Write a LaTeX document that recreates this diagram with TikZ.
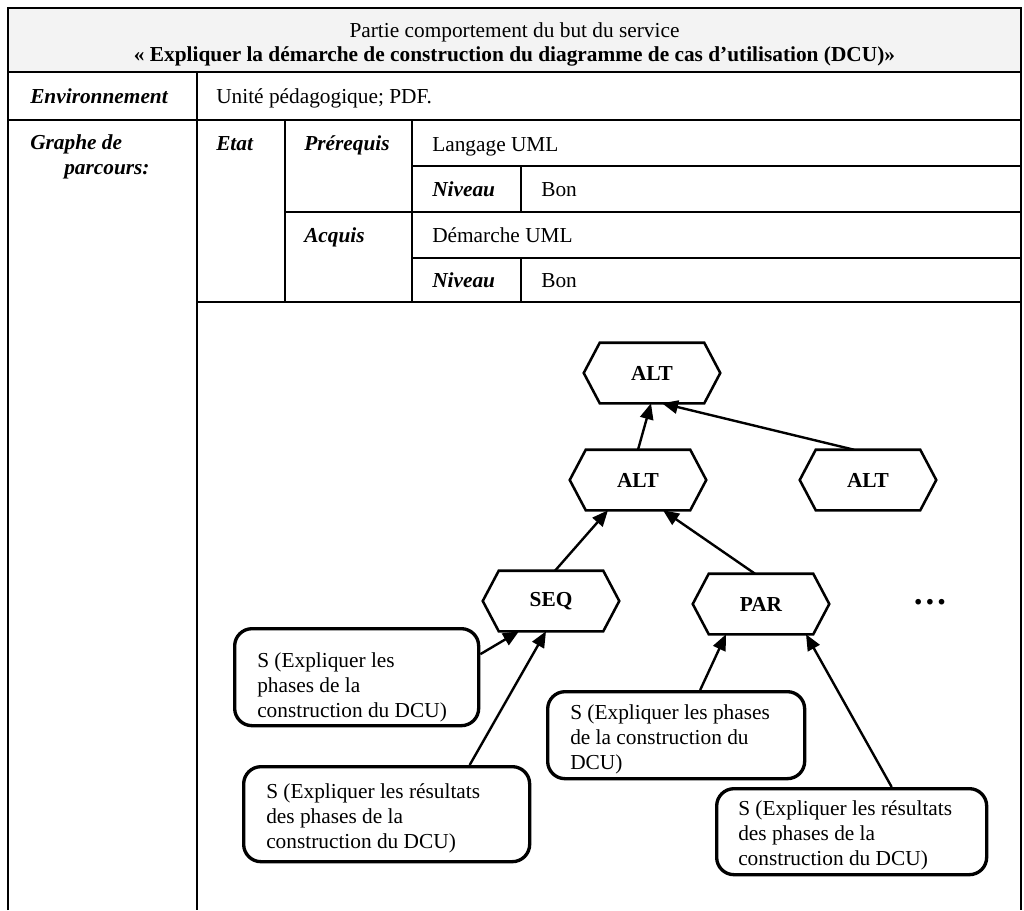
\documentclass[tikz,border=0pt]{standalone}
\usepackage{fontspec}
\setmainfont{Liberation Serif}
\usetikzlibrary{arrows.meta,calc}
\definecolor{hdr}{HTML}{F3F3F3}
\newcommand\hexoutline[1]{\draw[hexline] (#1.west) -- ($(#1.north west)+(16,0)$) -- ($(#1.north east)+(-16,0)$) -- (#1.east) -- ($(#1.south east)+(-16,0)$) -- ($(#1.south west)+(16,0)$) -- cycle;}
\begin{document}
\begin{tikzpicture}[x=0.75pt,y=-0.75pt,
  font=\fontsize{16}{18.7}\selectfont,
  tline/.style={line width=1.5pt},
  hexlbl/.style={minimum width=102pt,minimum height=45pt,inner sep=0pt,font=\fontsize{16}{18.7}\selectfont\bfseries},
  hexline/.style={line width=1.9pt,line join=miter},
  sbox/.style={draw,line width=2.5pt,rounded corners=13pt,inner sep=0pt,anchor=north west},
  stext/.style={align=left,inner sep=0pt,anchor=west},
  arr/.style={line width=1.8pt,-{Triangle[length=12pt,width=10pt]}},
  cell/.style={anchor=base west,inner sep=0pt},
  hcell/.style={cell,font=\fontsize{16}{18.7}\selectfont\bfseries\itshape}]
\useasboundingbox (0,0) rectangle (1024,910);
% table
\fill[hdr] (8,8) rectangle (1021,72);
\draw[tline] (8,910) -- (8,8) -- (1021,8) -- (1021,910);
\draw[tline] (8,72) -- (1021,72);
\draw[tline] (8,120) -- (1021,120);
\draw[tline] (197,72) -- (197,910);
\draw[tline] (285,120) -- (285,302);
\draw[tline] (412,120) -- (412,302);
\draw[tline] (521,166) -- (521,212);
\draw[tline] (521,258) -- (521,302);
\draw[tline] (412,166) -- (1021,166);
\draw[tline] (285,212) -- (1021,212);
\draw[tline] (412,258) -- (1021,258);
\draw[tline] (197,302) -- (1021,302);
% table texts
\node[align=center,inner sep=0pt,font=\fontsize{16}{18}\selectfont] (title) at (514.5,44) {Partie comportement du but du service\\\textbf{« Expliquer la démarche de construction du diagramme de cas d’utilisation (DCU)»}};
\node[hcell] (env) at (30,103) {Environnement};
\node[cell] (envv) at (216,103) {Unité pédagogique; PDF.};
\node[hcell] (gr1) at (30,149) {Graphe de};
\node[hcell] (gr2) at (64,174) {parcours:};
\node[hcell] (etat) at (216,150) {Etat};
\node[hcell] (prer) at (304,150) {Prérequis};
\node[cell] (prerv) at (432,151) {Langage UML};
\node[hcell] (niv1) at (432,196) {Niveau};
\node[cell] (niv1v) at (541,196) {Bon};
\node[hcell] (acq) at (304,242) {Acquis};
\node[cell] (acqv) at (432,242) {Démarche UML};
\node[hcell] (niv2) at (432,287) {Niveau};
\node[cell] (niv2v) at (541,287) {Bon};
% graph
\node[hexlbl] (alt1) at (652,373) {ALT};
\node[hexlbl] (alt2) at (638,480) {ALT};
\node[hexlbl] (alt3) at (868,480) {ALT};
\node[hexlbl] (seq) at (551,601) {SEQ};
\node[hexlbl] (par) at (761,604) {PAR};
\hexoutline{alt1}
\hexoutline{alt2}
\hexoutline{alt3}
\hexoutline{seq}
\hexoutline{par}
\node[font=\fontsize{26}{28}\selectfont\bfseries,anchor=base,inner sep=0pt] (dots) at (930,604) {…};
\node[sbox,minimum width=183pt,minimum height=72.75pt] (b1) at (233,627) {};
\node[stext] (t1) at ($(b1.west)+(24,10)$) {S (Expliquer les\\phases de la\\construction du DCU)};
\node[sbox,minimum width=214.5pt,minimum height=71.25pt] (b2) at (242,765) {};
\node[stext] (t2) at ($(b2.west)+(24,4)$) {S (Expliquer les résultats\\des phases de la\\construction du DCU)};
\node[sbox,minimum width=192.75pt,minimum height=65.25pt] (b3) at (546,690) {};
\node[stext] (t3) at ($(b3.west)+(24,4)$) {S (Expliquer les phases\\de la construction du\\DCU)};
\node[sbox,minimum width=202.5pt,minimum height=64.5pt] (b4) at (715,787) {};
\node[stext] (t4) at ($(b4.west)+(23,4)$) {S (Expliquer les résultats\\des phases de la\\construction du DCU)};
% arrows
\draw[arr] ($(alt2.north)+(0,0)$) -- ($(alt1.south)+(-1,0)$);
\draw[arr] ($(alt3.north)+(-14,0)$) -- ($(alt1.south)+(10,0)$);
\draw[arr] ($(seq.north)+(4,0)$) -- ($(alt2.south)+(-30,0)$);
\draw[arr] ($(par.north)+(-6,0)$) -- ($(alt2.south)+(25,0)$);
\draw[arr] ($(b1.east)+(0,-23)$) -- ($(seq.south)+(-32,0)$);
\draw[arr] ($(b2.north)+(83,0)$) -- ($(seq.south)+(-5,0)$);
\draw[arr] ($(b3.north)+(24,0)$) -- ($(par.south)+(-35,0)$);
\draw[arr] ($(b4.north)+(40,0)$) -- ($(par.south)+(45,0)$);
\end{tikzpicture}
\end{document}
